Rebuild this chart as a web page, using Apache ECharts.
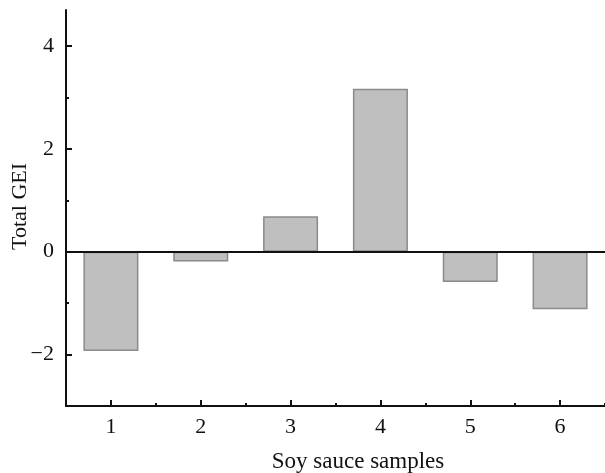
<!DOCTYPE html>
<html>
<head>
<meta charset="utf-8">
<script src="https://cdn.jsdelivr.net/npm/echarts@6/dist/echarts.min.js"></script>
<style>html,body{margin:0;padding:0;background:#fff}#c{width:605px;height:473px}</style>
</head>
<body>
<div id="c"></div>
<script>
const categories = ['1', '2', '3', '4', '5', '6'];
const totalGEI = [-1.93, -0.19, 0.69, 3.17, -0.59, -1.12];
const yMajorTicks = [-2, 0, 2, 4];
const yMinorTicks = [-1, 1, 3];
const xTitle = 'Soy sauce samples';
const yTitle = 'Total GEI';

const FONT = 'Liberation Serif';
const chart = echarts.init(document.getElementById('c'), null, {renderer: 'canvas'});
const axisColor = '#111';
chart.setOption({
  animation: false,
  backgroundColor: '#fff',
  grid: {left: 66, top: 10, bottom: 67, right: -10, containLabel: false},
  xAxis: [{
    type: 'category',
    data: categories,
    position: 'bottom',
    axisLine: {show: true, onZero: false, lineStyle: {color: axisColor, width: 2}},
    axisTick: {show: true, inside: true, alignWithLabel: true, length: 6, lineStyle: {color: axisColor, width: 2}},
    axisLabel: {color: '#111', fontFamily: FONT, fontSize: 22, margin: 10},
    splitLine: {show: false}
  }, {
    type: 'category',
    data: categories,
    position: 'bottom',
    offset: 0,
    axisLine: {show: false, onZero: false},
    axisTick: {show: true, inside: true, alignWithLabel: false, length: 3, lineStyle: {color: axisColor, width: 2}},
    axisLabel: {show: false},
    splitLine: {show: false}
  }],
  yAxis: [{
    type: 'value',
    min: -3,
    max: 4.7,
    position: 'left',
    axisLine: {show: true, onZero: false, lineStyle: {color: axisColor, width: 2}},
    axisTick: {show: true, inside: true, length: 6, customValues: yMajorTicks, lineStyle: {color: axisColor, width: 2}},
    axisLabel: {
      customValues: yMajorTicks,
      color: '#111', fontFamily: FONT, fontSize: 22, margin: 12,
      formatter: v => v < 0 ? '\u2212' + Math.abs(v) : String(v)
    },
    splitLine: {show: false}
  }, {
    type: 'value',
    min: -3,
    max: 4.7,
    position: 'left',
    offset: 0,
    axisLine: {show: false, onZero: false},
    axisTick: {show: true, inside: true, length: 3, customValues: yMinorTicks, lineStyle: {color: axisColor, width: 2}},
    axisLabel: {show: false, customValues: yMinorTicks},
    splitLine: {show: false}
  }],
  graphic: [{
    type: 'text',
    x: 358, y: 450,
    style: {text: xTitle, font: '23px "' + FONT + '"', fill: '#111', align: 'center'}
  }, {
    type: 'text',
    x: 9, y: 250, rotation: Math.PI / 2,
    style: {text: yTitle, font: '22px "' + FONT + '"', fill: '#111'}
  }],
  series: [{
    type: 'bar',
    xAxisIndex: 0,
    yAxisIndex: 0,
    data: totalGEI,
    barWidth: 55,
    itemStyle: {color: '#bfbfbf', borderColor: '#8a8a8a', borderWidth: 1.5},
    markLine: {
      silent: true,
      symbol: 'none',
      label: {show: false},
      lineStyle: {color: '#111', width: 2, type: 'solid'},
      data: [{yAxis: 0}]
    }
  }]
});
</script>
</body>
</html>
